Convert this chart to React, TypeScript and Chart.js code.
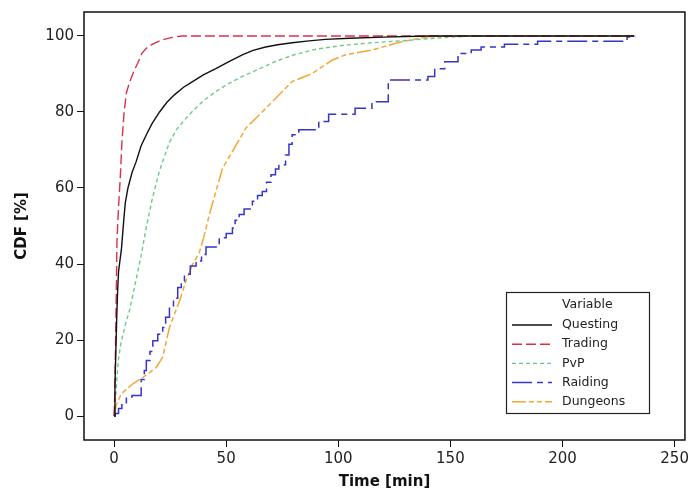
import React, { useEffect, useRef } from "react";
import { Chart, registerables } from "chart.js";

Chart.register(...registerables);

const seriesNames = ["Questing", "Trading", "PvP", "Raiding", "Dungeons"];
const legendTitle = "Variable";
const xTitle = "Time [min]";
const yTitle = "CDF [%]";
const xTickValues = [0, 50, 100, 150, 200, 250];
const yTickValues = [0, 20, 40, 60, 80, 100];

const questingT = [0, 0.4, 0.8, 1.2, 1.6, 2.0, 3.3, 4.4, 5.0, 6.2, 8.0, 9.9, 12, 14.4, 17, 20.3, 23.5, 26.9, 31, 35, 40, 45.4, 51, 57.2, 62, 67.6, 73, 79.4, 87, 94.2, 105, 120, 140, 232];
const questingV = [0, 8, 17, 26, 33, 38, 44, 52, 56, 60, 64, 67, 71, 74, 77, 80, 82.5, 84.5, 86.5, 88, 89.8, 91.4, 93.2, 95, 96.2, 97.1, 97.7, 98.2, 98.7, 99.1, 99.4, 99.7, 100, 100];

const tradingT = [0, 0.3, 0.6, 1.0, 1.3, 2.0, 2.8, 3.5, 4.5, 5.5, 6.5, 7.7, 9, 10.7, 12.5, 14.5, 17, 21, 25, 30, 232];
const tradingV = [0, 5, 16, 32, 46, 55, 63, 72, 80, 85, 87, 89, 91, 93, 95.5, 96.8, 97.8, 98.9, 99.5, 100, 100];

const pvpT = [0, 0.5, 1, 2, 3, 5, 7, 9.5, 12, 14.5, 17, 20, 22, 24.7, 28, 32, 36, 40, 45, 50, 57, 65, 72, 80, 90, 103, 115, 130, 145, 160, 232];
const pvpV = [0, 3, 8, 15, 19, 24, 28, 35, 42, 50, 57, 64, 67.5, 72, 75.5, 78.3, 80.8, 83, 85.2, 87.1, 89.3, 91.4, 93.3, 95, 96.5, 97.6, 98.2, 98.8, 99.5, 100, 100];

const raidingT = [0, 0.5, 2, 3.5, 5.5, 8, 12.1, 13.5, 14.4, 16, 17.3, 19.5, 21.7, 23, 24.7, 26.5, 28.4, 30, 31.4, 34, 36.6, 39, 41, 46.9, 50, 52.8, 54, 55.8, 58, 61.7, 64, 66.1, 68, 70, 72, 73.5, 76.5, 78, 79.4, 82.4, 91.3, 95.7, 107.5, 115, 122.3, 140, 143, 147.5, 153.4, 159.3, 163.7, 174.1, 188.9, 228.8, 232.5];
const raidingV = [0, 0.7, 2, 3, 5, 5.4, 9.6, 12, 14.6, 17, 19.8, 21.5, 23.3, 26, 28.6, 31, 33.8, 35.5, 37.3, 39.5, 40.8, 42.5, 44.5, 46.9, 48, 49.5, 51.5, 53, 54.5, 56.5, 58, 59.1, 61.5, 63.5, 65, 66.1, 68.7, 71.5, 74, 75.3, 77.5, 79.4, 81, 82.7, 88.4, 89.3, 91.4, 93.2, 95.4, 96.3, 97.1, 97.8, 98.6, 99.7, 99.7];

const dungeonsT = [0, 1, 3.3, 8.4, 12.9, 18.8, 21.7, 24.7, 29.2, 32.1, 35, 38, 40, 42.5, 45.4, 48.4, 52.8, 58.7, 64.7, 72.1, 79.4, 88.3, 97.2, 103, 115, 125.3, 132.7, 140, 150, 232];
const dungeonsV = [0, 3, 5.9, 8.5, 10.2, 12.8, 15.5, 23.3, 30.3, 35.6, 39.9, 43, 47, 53, 59.1, 65.2, 69.6, 75.7, 79.2, 83.6, 88, 90.1, 93.6, 95, 96.3, 98, 99, 99.8, 100, 100];

const toPoints = (t: number[], v: number[]) => t.map((x, i) => ({ x, y: v[i] }));

const FONT = '"DejaVu Sans", Verdana, sans-serif';

const framePlugin = {
  id: "frameBox",
  beforeDatasetsDraw(chart: any) {
    const { ctx, chartArea } = chart;
    ctx.save();
    ctx.strokeStyle = "#111";
    ctx.lineWidth = 1.5;
    ctx.strokeRect(chartArea.left, chartArea.top, chartArea.right - chartArea.left, chartArea.bottom - chartArea.top);
    ctx.restore();
  },
};

const legendPlugin = {
  id: "boxLegend",
  afterDraw(chart: any) {
    const { ctx } = chart;
    ctx.save();
    ctx.fillStyle = "#fff";
    ctx.fillRect(506, 292, 144, 121);
    ctx.strokeStyle = "#222";
    ctx.lineWidth = 1.2;
    ctx.strokeRect(506.5, 292.5, 143, 121);
    ctx.font = `12.5px ${FONT}`;
    ctx.fillStyle = "#222";
    ctx.textBaseline = "middle";
    ctx.textAlign = "left";
    ctx.fillText(legendTitle, 562, 305);
    chart.data.datasets.forEach((ds: any, i: number) => {
      const y = 325 + i * 19.2;
      ctx.save();
      ctx.setLineDash(ds.borderDash || []);
      ctx.strokeStyle = ds.borderColor;
      ctx.lineWidth = ds.borderWidth;
      ctx.beginPath();
      ctx.moveTo(512, y);
      ctx.lineTo(552, y);
      ctx.stroke();
      ctx.restore();
      ctx.fillText(ds.label, 562, y);
    });
    ctx.restore();
  },
};

export default function App() {
  const ref = useRef<HTMLCanvasElement | null>(null);

  useEffect(() => {
    if (!ref.current) return;
    const chart = new Chart(ref.current, {
      type: "line",
      data: {
        datasets: [
          {
            label: seriesNames[0],
            data: toPoints(questingT, questingV),
            borderColor: "#111111",
            borderWidth: 1.4,
            borderDash: [],
            stepped: false,
          },
          {
            label: seriesNames[1],
            data: toPoints(tradingT, tradingV),
            borderColor: "#dd3048",
            borderWidth: 1.4,
            borderDash: [10, 4],
          },
          {
            label: seriesNames[2],
            data: toPoints(pvpT, pvpV),
            borderColor: "#6cc98a",
            borderWidth: 1.4,
            borderDash: [4, 3],
          },
          {
            label: seriesNames[3],
            data: toPoints(raidingT, raidingV),
            borderColor: "#3535c8",
            borderWidth: 1.5,
            borderDash: [20, 5, 6, 5],
            stepped: true,
          },
          {
            label: seriesNames[4],
            data: toPoints(dungeonsT, dungeonsV),
            borderColor: "#f2a835",
            borderWidth: 1.5,
            borderDash: [14, 3, 5, 3, 5, 3],
          },
        ],
      },
      options: {
        animation: false,
        responsive: false,
        parsing: false,
        layout: { padding: { left: 0, top: 10, right: 4, bottom: 0 } },
        elements: { point: { radius: 0 }, line: { tension: 0 } },
        plugins: { legend: { display: false }, tooltip: { enabled: false } },
        scales: {
          x: {
            type: "linear",
            min: -13.4,
            max: 254.6,
            afterFit: (s: any) => { s.height = 55; },
            afterBuildTicks: (s: any) => { s.ticks = xTickValues.map((v) => ({ value: v })); },
            grid: { drawOnChartArea: false, drawTicks: true, tickLength: 7, color: "#111", lineWidth: 1 },
            border: { display: false },
            ticks: { color: "#222", font: { family: FONT, size: 15 }, padding: 3, maxRotation: 0 },
            title: { display: true, text: xTitle, color: "#111", font: { family: FONT, size: 15, weight: "bold" }, padding: { top: 0, bottom: 4 } },
          },
          y: {
            type: "linear",
            min: -6.3,
            max: 106.3,
            afterFit: (s: any) => { s.width = 84; },
            afterBuildTicks: (s: any) => { s.ticks = yTickValues.map((v) => ({ value: v })); },
            grid: { drawOnChartArea: false, drawTicks: true, tickLength: 7, color: "#111", lineWidth: 1 },
            border: { display: false },
            ticks: { color: "#222", font: { family: FONT, size: 15 }, padding: 3 },
            title: { display: true, text: yTitle, color: "#111", font: { family: FONT, size: 15, weight: "bold" }, padding: { top: 13, bottom: 0 } },
          },
        },
      },
      plugins: [framePlugin, legendPlugin],
    } as any);
    return () => chart.destroy();
  }, []);

  return (
    <div style={{ position: "absolute", left: 0, top: 0, width: 692, height: 495, background: "#fff" }}>
      <canvas ref={ref} width={692} height={495} style={{ display: "block" }} />
    </div>
  );
}
